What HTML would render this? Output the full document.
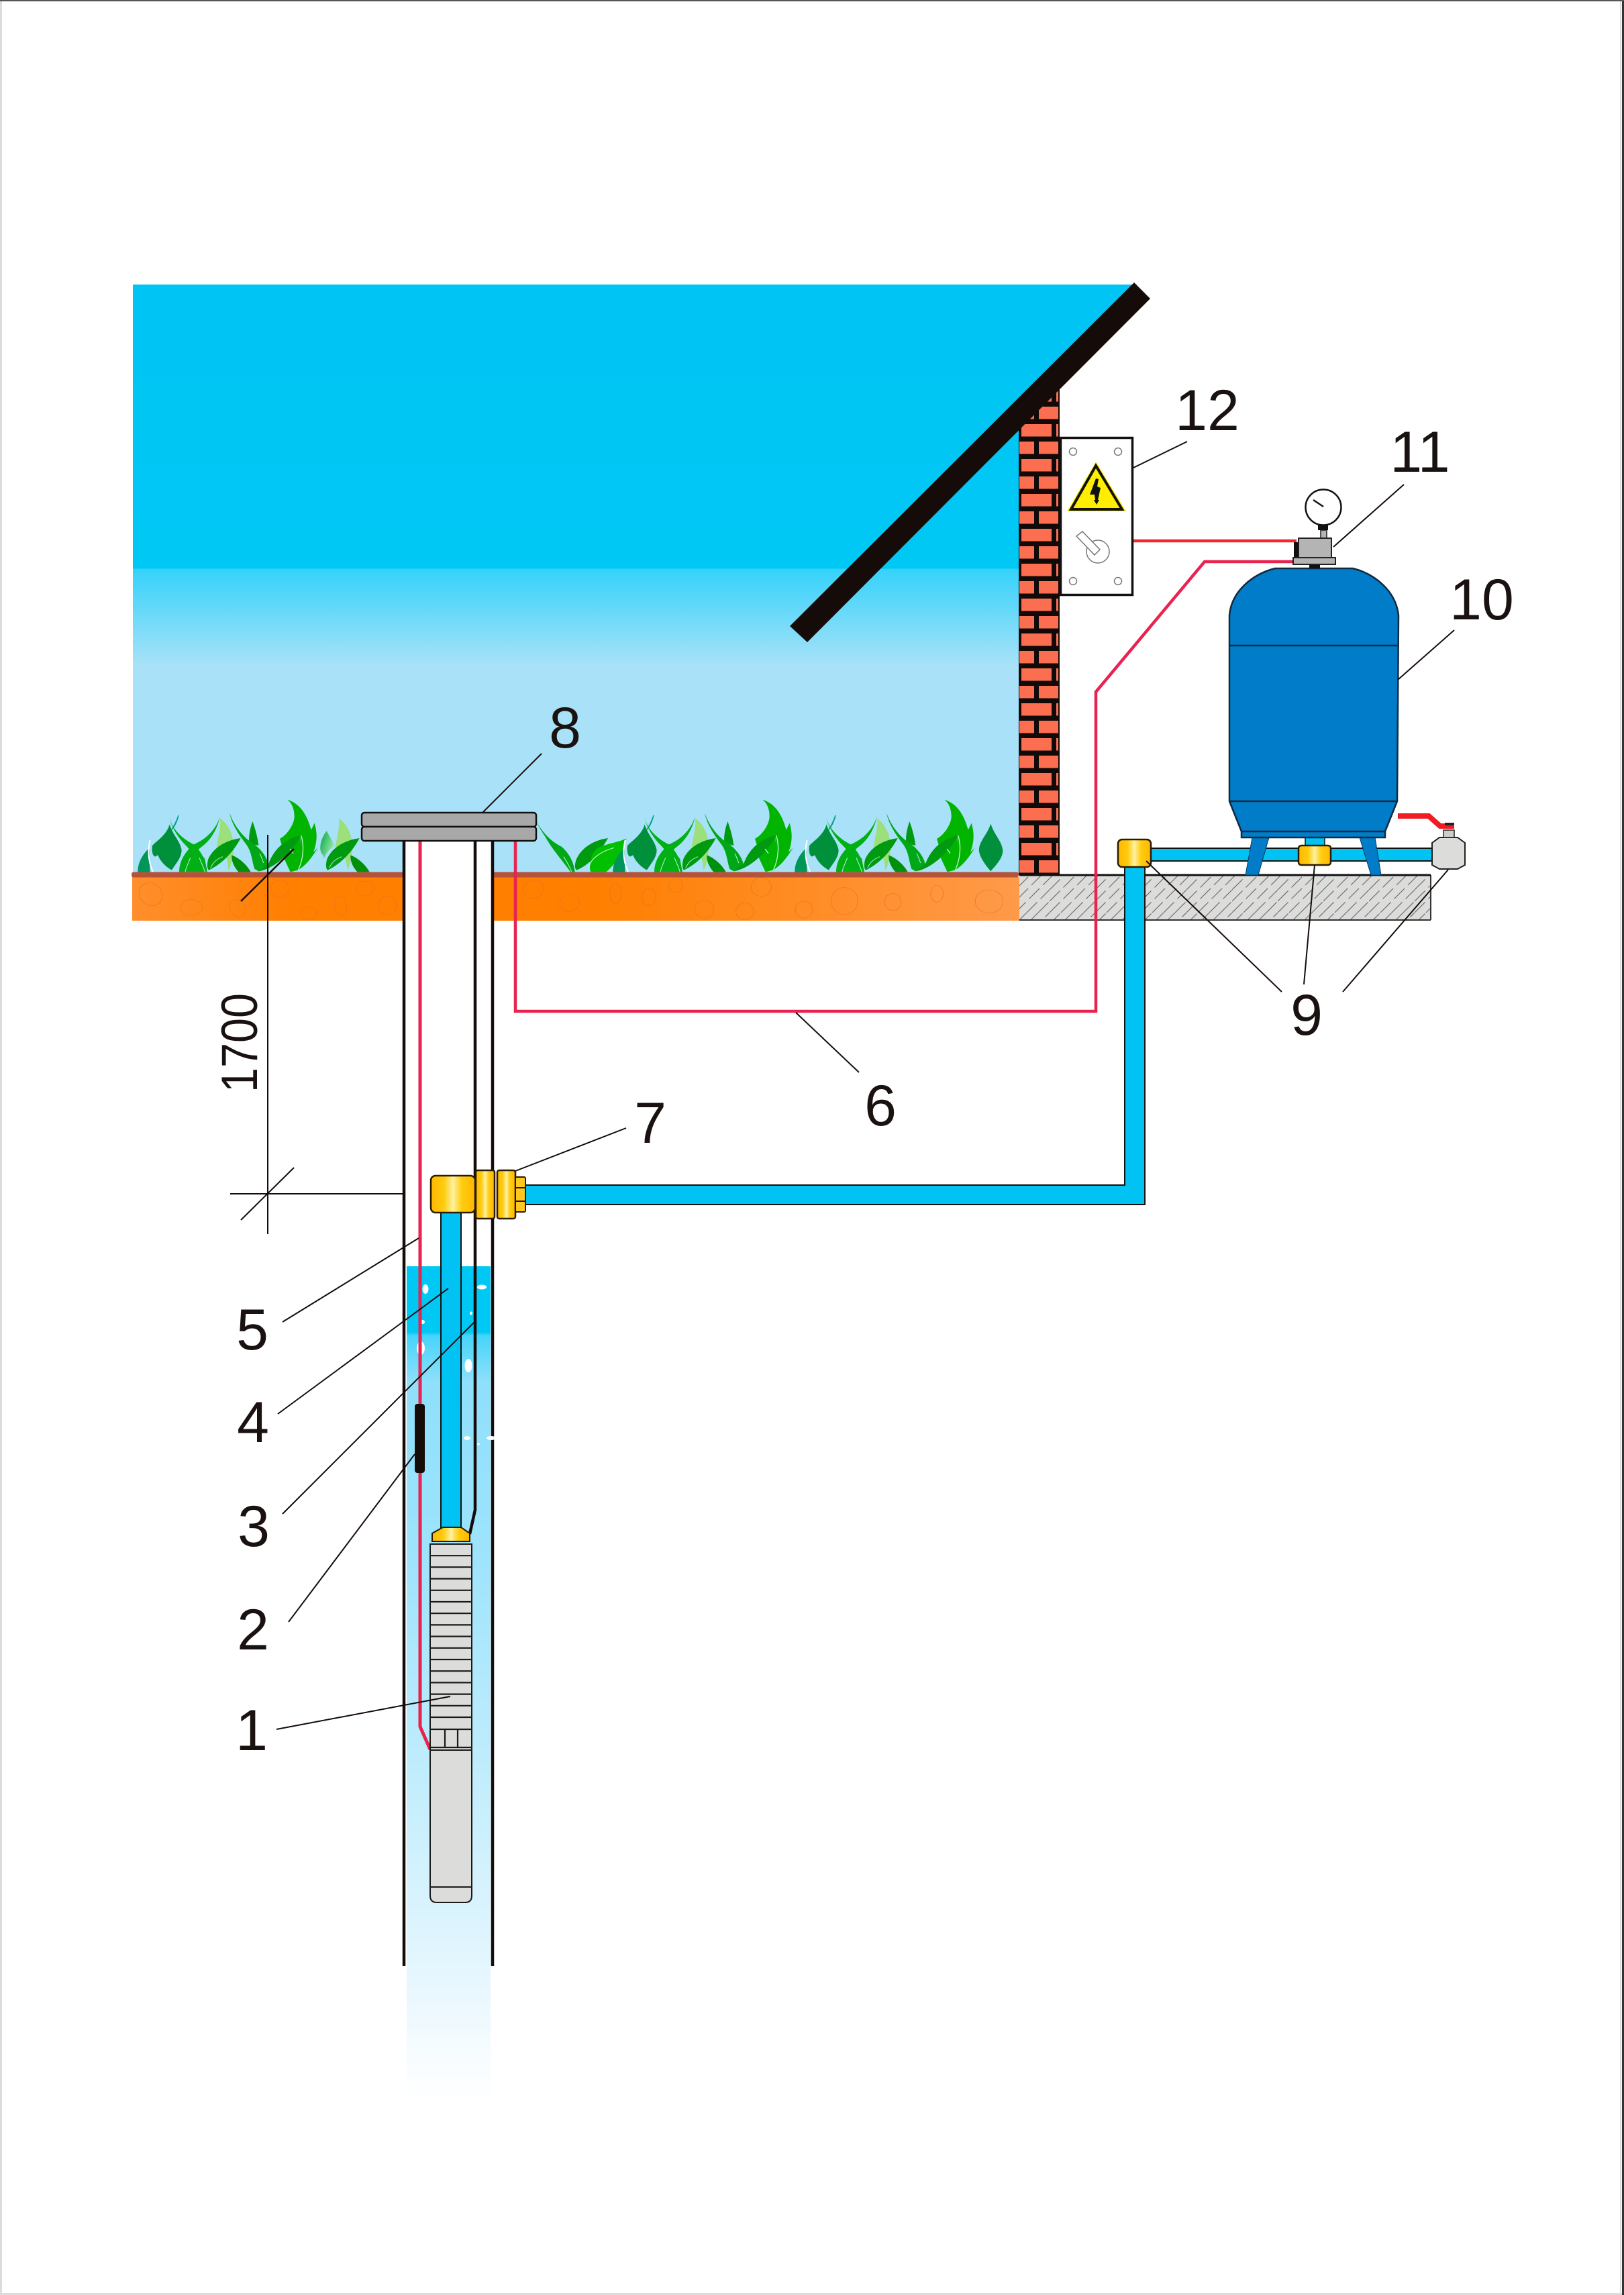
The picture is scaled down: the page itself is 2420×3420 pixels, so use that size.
<!DOCTYPE html>
<html lang="en">
<head>
<meta charset="utf-8">
<title>Well pump diagram</title>
<style>
html,body{margin:0;padding:0;background:#fff}
svg{display:block}
text{font-family:"Liberation Sans",Arial,sans-serif;fill:#1a1210}
</style>
</head>
<body>
<svg xmlns="http://www.w3.org/2000/svg" width="2420" height="3420" viewBox="0 0 2420 3420">
<defs>
<linearGradient id="sky" gradientUnits="userSpaceOnUse" x1="0" y1="424" x2="0" y2="1300">
<stop offset="0" stop-color="#00c4f4"/>
<stop offset="0.483" stop-color="#00c8f5"/>
<stop offset="0.484" stop-color="#35d2fa"/>
<stop offset="0.65" stop-color="#a9e2f8"/>
<stop offset="1" stop-color="#a9e2f8"/>
</linearGradient>
<linearGradient id="soil" gradientUnits="userSpaceOnUse" x1="197" y1="0" x2="1519" y2="0">
<stop offset="0" stop-color="#ff8e2c"/>
<stop offset="0.18" stop-color="#ff7f00"/>
<stop offset="0.52" stop-color="#ff7f00"/>
<stop offset="1" stop-color="#ff9a4a"/>
</linearGradient>
<linearGradient id="water" gradientUnits="userSpaceOnUse" x1="0" y1="1887" x2="0" y2="3130">
<stop offset="0" stop-color="#00c8f5"/>
<stop offset="0.079" stop-color="#00c8f5"/>
<stop offset="0.083" stop-color="#45d4fa"/>
<stop offset="0.139" stop-color="#8fe0fb"/>
<stop offset="0.332" stop-color="#9de3fc"/>
<stop offset="0.582" stop-color="#bdecfc"/>
<stop offset="0.839" stop-color="#e4f6fe"/>
<stop offset="1" stop-color="#ffffff"/>
</linearGradient>
<linearGradient id="brass" x1="0" y1="0" x2="1" y2="0">
<stop offset="0" stop-color="#ffb800"/>
<stop offset="0.3" stop-color="#ffcc10"/>
<stop offset="0.5" stop-color="#fff2a0"/>
<stop offset="0.7" stop-color="#ffcc10"/>
<stop offset="1" stop-color="#ffb800"/>
</linearGradient>
<linearGradient id="lf" x1="0" y1="0" x2="1" y2="0.6">
<stop offset="0" stop-color="#00a840"/>
<stop offset="1" stop-color="#a0e8b0"/>
</linearGradient>
<pattern id="hatch" patternUnits="userSpaceOnUse" width="68" height="68">
<path d="M0 17L17 0M0 34L34 0M0 51L51 0M0 68L68 0M17 68L68 17M34 68L68 34M51 68L68 51" stroke="#6e6e6e" stroke-width="1.2" fill="none" stroke-dasharray="22 7"/>
</pattern>
<clipPath id="wallclip"><polygon points="1579,575 1579,1304 1518,1304 1518,641"/></clipPath>

<g id="sideleaves">
<path d="M708,118C745,145 770,190 768,260C765,300 755,335 745,352C743,310 735,270 692,245C700,200 712,160 708,118Z" fill="#9be07a"/>
<path d="M800,207C740,215 680,245 655,300C648,325 650,345 658,350C720,320 770,265 800,207Z" fill="#009a10"/>
<path d="M665,340C680,310 695,300 720,290" fill="none" stroke="#a8f0c0" stroke-width="3"/>
<path d="M760,283C795,295 830,330 845,358L790,358C770,335 758,310 760,283Z" fill="#00900a"/>
</g>
<g id="grass">
<use href="#sideleaves"/>
<path d="M392,250C360,280 338,320 340,360L395,360Z" fill="#00965a"/>
<path d="M522,105C515,135 505,155 490,170C505,150 515,125 522,105Z" fill="#00a08a" stroke="#00a08a" stroke-width="4"/>
<path d="M482,145C470,190 430,215 405,240C400,270 410,300 425,285L430,283C440,310 465,335 492,350C510,320 540,290 535,255C525,215 495,190 482,145Z" fill="#00903c"/>
<path d="M395,215C385,260 385,310 408,358" fill="none" stroke="#fff" stroke-width="6"/>
<path d="M478,105C490,160 530,205 590,235C625,265 645,310 650,358L620,358C610,320 585,270 555,240C520,205 490,160 478,105Z" fill="#00b014"/>
<path d="M708,110C690,165 650,210 590,235C550,270 525,310 525,358L555,358C560,315 590,275 620,250C670,215 695,165 708,110Z" fill="#00b014"/>
<path d="M590,235L640,300L650,358L525,358L545,290Z" fill="#00b014"/>
<path d="M575,295C565,320 555,340 552,358M615,295C625,320 635,340 640,358" fill="none" stroke="#bdf5d0" stroke-width="3"/>
<path d="M853,132C840,170 835,200 838,230L880,240C875,200 865,165 853,132Z" fill="#009a10"/>
<path d="M750,93C765,140 800,190 840,220C890,250 920,295 925,330L880,355L862,345C850,310 850,270 825,235C790,190 758,140 750,93Z" fill="#00a818"/>
<path d="M885,275C892,290 898,305 902,318" fill="none" stroke="#bdf5d0" stroke-width="3"/>
<path d="M1008,35C1060,50 1095,95 1115,170L1130,140C1145,190 1140,230 1125,270L1145,250C1115,300 1085,335 1055,350C1065,310 1075,250 1065,195L1040,250C1045,290 1040,320 1022,358C1010,320 995,290 990,260L975,210L990,200C1015,180 1040,140 1040,110C1040,80 1030,50 1008,35Z" fill="#00b400"/>
<path d="M1000,240L1065,195L1075,300L1055,350L1022,358L990,290Z" fill="#00b400"/>
<path d="M1070,195C1010,205 950,250 925,320L880,355C950,345 1030,270 1070,195Z" fill="#009a10"/>
<path d="M1070,195C1085,240 1080,300 1058,348M1020,255L1035,275" fill="none" stroke="#bdf5d0" stroke-width="4"/>
</g>
</defs>

<!-- page border -->
<rect width="2420" height="3420" fill="#fff"/>
<rect x="0" y="0" width="3" height="3420" fill="#dcdcdc"/>
<rect x="0" y="3417" width="2420" height="3" fill="#dcdcdc"/>
<rect x="2414" y="0" width="2" height="3420" fill="#dcdcdc"/>
<rect x="2417" y="0" width="3" height="3420" fill="#333"/>
<rect x="0" y="0" width="2420" height="2" fill="#555"/>

<!-- sky -->
<polygon points="198,424 1695,424 1518,600 1518,1304 198,1304" fill="url(#sky)"/>

<!-- bricks -->
<g clip-path="url(#wallclip)">
<rect x="1518" y="570" width="61" height="734" fill="#120a08"/>
<g fill="#fb6f50">
<path d="M1522 580h45v18.5h-45zM1574 580h3v18.5h-3zM1519 606h22v18.5h-22zM1548 606h29v18.5h-29z"/>
<path d="M1522 632h45v18.5h-45zM1574 632h3v18.5h-3zM1519 658h22v18.5h-22zM1548 658h29v18.5h-29z"/>
<path d="M1522 684h45v18.5h-45zM1574 684h3v18.5h-3zM1519 710h22v18.5h-22zM1548 710h29v18.5h-29z"/>
<path d="M1522 736h45v18.5h-45zM1574 736h3v18.5h-3zM1519 762h22v18.5h-22zM1548 762h29v18.5h-29z"/>
<path d="M1522 788h45v18.5h-45zM1574 788h3v18.5h-3zM1519 814h22v18.5h-22zM1548 814h29v18.5h-29z"/>
<path d="M1522 840h45v18.5h-45zM1574 840h3v18.5h-3zM1519 866h22v18.5h-22zM1548 866h29v18.5h-29z"/>
<path d="M1522 892h45v18.5h-45zM1574 892h3v18.5h-3zM1519 918h22v18.5h-22zM1548 918h29v18.5h-29z"/>
<path d="M1522 944h45v18.5h-45zM1574 944h3v18.5h-3zM1519 970h22v18.5h-22zM1548 970h29v18.5h-29z"/>
<path d="M1522 996h45v18.5h-45zM1574 996h3v18.5h-3zM1519 1022h22v18.5h-22zM1548 1022h29v18.5h-29z"/>
<path d="M1522 1048h45v18.5h-45zM1574 1048h3v18.5h-3zM1519 1074h22v18.5h-22zM1548 1074h29v18.5h-29z"/>
<path d="M1522 1100h45v18.5h-45zM1574 1100h3v18.5h-3zM1519 1126h22v18.5h-22zM1548 1126h29v18.5h-29z"/>
<path d="M1522 1152h45v18.5h-45zM1574 1152h3v18.5h-3zM1519 1178h22v18.5h-22zM1548 1178h29v18.5h-29z"/>
<path d="M1522 1204h45v18.5h-45zM1574 1204h3v18.5h-3zM1519 1230h22v18.5h-22zM1548 1230h29v18.5h-29z"/>
<path d="M1522 1256h45v18.5h-45zM1574 1256h3v18.5h-3zM1519 1282h22v18.5h-22zM1548 1282h29v18.5h-29z"/>
</g>
</g>

<!-- roof -->
<polygon points="1690,421 1714,445 1203,957 1177,933" fill="#150c0a"/>

<!-- grass -->
<g transform="translate(800,1180) scale(0.33333)">
<path d="M0,135C30,190 70,225 110,245C140,270 165,310 170,358L150,358C125,320 70,260 40,205C20,175 5,150 0,135Z" fill="#00a818"/>
<path d="M120,290C135,315 150,340 155,358" fill="none" stroke="#bdf5d0" stroke-width="3"/>
<path d="M318,207C260,215 200,245 175,305C168,330 170,345 178,350C240,325 285,265 318,207Z" fill="#009a10"/>
<path d="M400,208C370,225 310,230 265,255C240,285 232,325 240,358L310,358C350,325 385,270 400,208Z" fill="#00c000"/>
<path d="M235,330C245,295 290,265 345,250" fill="none" stroke="#d0f8d8" stroke-width="3"/>
<use href="#grass"/>
<use href="#grass" x="813"/>
<use href="#grass" x="-2124"/>
<use href="#sideleaves" x="-1593"/>
</g>
<g transform="translate(790,1170) scale(0.4717,0.3333)">
<path d="M1455,172C1445,220 1418,250 1418,290C1418,320 1440,360 1455,385C1470,360 1495,325 1493,290C1490,250 1465,220 1455,172Z" fill="#00903c"/>
</g>
<g transform="translate(190,1180) scale(0.33333)">
<path d="M890,175C870,200 855,240 865,270L880,295C890,270 905,255 925,240L910,210Z" fill="url(#lf)"/>
</g>

<!-- ground -->
<rect x="197" y="1307" width="1322" height="65" fill="url(#soil)"/>
<rect x="196" y="1299.500" width="1322" height="8" rx="3" fill="#b5533a"/>
<g fill="none" stroke="#e8701f" stroke-width="1.5">
<g transform="translate(180,1150) scale(0.4464,0.3333)">
<ellipse cx="100" cy="548" rx="38" ry="52" transform="rotate(-12 100 548)"/>
<ellipse cx="236" cy="607" rx="37" ry="35"/>
<ellipse cx="390" cy="610" rx="26" ry="40" transform="rotate(-15 390 610)"/>
<ellipse cx="530" cy="522" rx="30" ry="38"/>
<ellipse cx="628" cy="633" rx="26" ry="28"/>
<ellipse cx="733" cy="600" rx="20" ry="45" transform="rotate(-8 733 600)"/>
<ellipse cx="815" cy="522" rx="30" ry="33"/>
<ellipse cx="890" cy="598" rx="30" ry="42"/>
<ellipse cx="1378" cy="525" rx="33" ry="42" transform="rotate(12 1378 525)"/>
<ellipse cx="1498" cy="587" rx="33" ry="40" transform="rotate(15 1498 587)"/>
</g>
<g transform="translate(790,1170) scale(0.4717,0.3333)">
<ellipse cx="270" cy="485" rx="18" ry="45"/>
<ellipse cx="375" cy="500" rx="22" ry="40"/>
<ellipse cx="460" cy="447" rx="22" ry="32"/>
<ellipse cx="730" cy="455" rx="32" ry="42"/>
<ellipse cx="550" cy="555" rx="30" ry="40"/>
<ellipse cx="678" cy="565" rx="28" ry="38"/>
<ellipse cx="865" cy="557" rx="27" ry="38"/>
<ellipse cx="993" cy="518" rx="42" ry="60"/>
<ellipse cx="1146" cy="522" rx="26" ry="38"/>
<ellipse cx="1285" cy="485" rx="20" ry="38"/>
<ellipse cx="1450" cy="520" rx="44" ry="52"/>
</g>
</g>

<!-- slab -->
<rect x="1519" y="1304" width="613" height="67" fill="#dcdcda"/>
<rect x="1519" y="1304" width="613" height="67" fill="url(#hatch)"/>
<path d="M1519 1304H2132M1519 1371H2132M2132 1304V1371" fill="none" stroke="#333" stroke-width="2"/>
<path d="M1519 1304H2132" stroke="#111" stroke-width="3"/>

<!-- well -->
<rect x="602" y="1253" width="132" height="700" fill="#fff"/>
<rect x="606" y="1887" width="125" height="1243" fill="url(#water)"/>
<g fill="#fff">
<ellipse cx="634" cy="1921" rx="4.500" ry="7"/>
<ellipse cx="718" cy="1918" rx="7" ry="3.500"/>
<ellipse cx="702" cy="1957" rx="2" ry="2.500"/>
<ellipse cx="630" cy="1970" rx="3" ry="3"/>
<ellipse cx="627" cy="2009" rx="6" ry="10"/>
<ellipse cx="698" cy="2035" rx="5.500" ry="10"/>
<ellipse cx="696" cy="2143" rx="5" ry="3"/>
<ellipse cx="713" cy="2152" rx="2" ry="1.500"/>
</g>

<!-- well walls -->
<path d="M602 1253V2930M734 1253V2930" stroke="#150c0a" stroke-width="4.500" fill="none"/>
<ellipse cx="732" cy="2143" rx="7" ry="3" fill="#fff"/>
<path d="M708 1253V2250L700 2286" stroke="#150c0a" stroke-width="4.500" fill="none"/>

<!-- red cables -->
<path d="M626 1253V2573L641 2607" stroke="#e8234f" stroke-width="5" fill="none"/>
<path d="M768 1253V1507H1633V1031L1795 837H1928" stroke="#e8234f" stroke-width="4.500" fill="none"/>
<path d="M1688 806H1932" stroke="#f0282d" stroke-width="4.500" fill="none"/>

<!-- float -->
<rect x="618" y="2092" width="15" height="103" rx="4" fill="#150c0a"/>

<!-- drop pipe -->
<rect x="657" y="1800" width="30" height="482" fill="#00c3f4" stroke="#111" stroke-width="2"/>

<!-- horizontal piping -->
<path d="M783 1766H1676V1292H1706V1795H783Z" fill="#00c3f4" stroke="#111" stroke-width="2"/>
<rect x="1715" y="1264" width="422" height="19" fill="#00c3f4" stroke="#111" stroke-width="2"/>

<!-- fittings -->
<rect x="642" y="1752" width="66" height="55" rx="7" fill="url(#brass)" stroke="#2a1a00" stroke-width="2.500"/>
<rect x="709" y="1744" width="28" height="72" rx="3" fill="url(#brass)" stroke="#2a1a00" stroke-width="2.500"/>
<rect x="741" y="1744" width="27" height="72" rx="3" fill="url(#brass)" stroke="#2a1a00" stroke-width="2.500"/>
<rect x="768" y="1754" width="15" height="52" rx="2" fill="#ffc81e" stroke="#2a1a00" stroke-width="2"/>
<path d="M768 1770H783M768 1790H783" stroke="#2a1a00" stroke-width="2"/>
<rect x="1666" y="1251" width="49" height="41" rx="6" fill="url(#brass)" stroke="#2a1a00" stroke-width="2.500"/>

<!-- pump -->
<polygon points="644,2297 644,2285 660,2276 687,2276 700,2285 700,2297" fill="url(#brass)" stroke="#2a1a00" stroke-width="2"/>
<rect x="641" y="2301" width="62" height="307" fill="#dcdcda" stroke="#1a1a1a" stroke-width="2"/>
<path d="M640 2318.200H704M640 2335.400H704M640 2352.600H704M640 2369.800H704M640 2387H704M640 2404.200H704M640 2421.400H704M640 2438.600H704M640 2455.800H704M640 2473H704M640 2490.200H704M640 2507.400H704M640 2524.600H704M640 2541.800H704M640 2559H704M640 2577H704M640 2604H704" stroke="#1a1a1a" stroke-width="2.200"/>
<path d="M663 2577V2604M682 2577V2604" stroke="#1a1a1a" stroke-width="2.200"/>
<path d="M641 2608H703V2825Q703 2835 693 2835H651Q641 2835 641 2825Z" fill="#dcdcda" stroke="#1a1a1a" stroke-width="2"/>
<path d="M641 2812H703" stroke="#1a1a1a" stroke-width="2"/>

<!-- well cover -->
<rect x="539" y="1211" width="260" height="21" rx="4" fill="#a8a8a8" stroke="#111" stroke-width="2.500"/>
<rect x="539" y="1232" width="260" height="21" rx="4" fill="#a8a8a8" stroke="#111" stroke-width="2.500"/>

<!-- electric box -->
<rect x="1580.500" y="652.500" width="107" height="234" fill="#fff" stroke="#111" stroke-width="3.500"/>
<g fill="#fff" stroke="#777" stroke-width="1.500">
<circle cx="1599" cy="673" r="5.500"/>
<circle cx="1666" cy="673" r="5.500"/>
<circle cx="1599" cy="866" r="5.500"/>
<circle cx="1666" cy="866" r="5.500"/>
<circle cx="1636" cy="822" r="17"/>
<polygon points="1604,799 1613,792 1639,819 1631,827"/>
</g>
<polygon points="1633,688 1590,762 1678,762" fill="#ffee00"/>
<polygon points="1633,694 1596,759 1672,759" fill="#ffee00" stroke="#111" stroke-width="4"/>
<polygon points="1633,713 1637,714 1635,725 1640,727 1636,745 1638,745 1634,752 1630,745 1632,745 1631,737 1624,737" fill="#111"/>

<!-- tank -->
<rect x="1945" y="1248" width="29" height="14" fill="#00c3f4" stroke="#111" stroke-width="1.500"/>
<polygon points="1866,1248 1891,1248 1875,1304 1856,1304" fill="#007cc8" stroke="#0a3a60" stroke-width="1"/>
<polygon points="2026,1248 2049,1248 2058,1304 2043,1304" fill="#007cc8" stroke="#0a3a60" stroke-width="1"/>
<path d="M1832 1194V917C1835 880 1868 855 1900 847H2016C2048 855 2080 880 2084 917L2082 1194L2064 1239V1248H1850V1239Z" fill="#007cc8" stroke="#102a40" stroke-width="2.500"/>
<path d="M1832 962H2083M1832 1194H2082M1850 1239H2064" stroke="#102a40" stroke-width="2.500" fill="none"/>
<rect x="1935" y="1260" width="48" height="29" rx="4" fill="url(#brass)" stroke="#2a1a00" stroke-width="2.500"/>

<!-- valve -->
<polygon points="2145,1248 2172,1248 2183,1256 2183,1289 2172,1295 2145,1295 2134,1289 2134,1256" fill="#dcdcda" stroke="#222" stroke-width="2"/>
<rect x="2151" y="1237" width="16" height="11" fill="#ccc" stroke="#222" stroke-width="1.500"/>
<path d="M2083 1216H2129L2146 1231H2167" fill="none" stroke="#f01c24" stroke-width="8"/>
<rect x="2153" y="1226" width="14" height="4" fill="#222"/>

<!-- pressure switch / gauge -->
<rect x="1951" y="841" width="16" height="6" fill="#111"/>
<rect x="1928" y="808" width="8" height="24" fill="#111"/>
<rect x="1968" y="790" width="9" height="12" fill="#b4b4b4" stroke="#222" stroke-width="1.500"/>
<rect x="1964" y="782" width="15" height="8" fill="#111"/>
<rect x="1935" y="802" width="49" height="29" fill="#b4b4b4" stroke="#222" stroke-width="2"/>
<rect x="1927" y="831" width="63" height="10" fill="#b4b4b4" stroke="#222" stroke-width="2"/>
<circle cx="1972" cy="756" r="26.500" fill="#fff" stroke="#111" stroke-width="2.500"/>
<path d="M1957 745L1972 755" stroke="#111" stroke-width="2.500"/>

<!-- leader lines -->
<g stroke="#150c0a" stroke-width="2" fill="none">
<path d="M399 1244V1839"/>
<path d="M343 1779H602"/>
<path d="M359 1818L438 1740"/>
<path d="M438 1265L359 1343" stroke-width="2.500"/>
<path d="M719 1211L807 1123"/>
<path d="M1186 1509L1280 1598"/>
<path d="M768 1745L933 1681"/>
<path d="M624 1845L421 1970"/>
<path d="M668 1920L414 2107"/>
<path d="M707 1970L421 2256"/>
<path d="M618 2167L430 2417"/>
<path d="M671 2528L412 2577"/>
<path d="M1708 1283L1910 1478"/>
<path d="M1959 1289L1943 1467"/>
<path d="M2158 1296L2001 1478"/>
<path d="M1689 697L1769 658"/>
<path d="M1987 815L2092 722"/>
<path d="M2083 1013L2167 939"/>
</g>

<!-- labels -->
<g font-size="86" text-anchor="middle">
<text x="1799" y="641">12</text>
<text x="2116" y="703">11</text>
<text x="2208" y="923">10</text>
<text x="842" y="1114">8</text>
<text x="1947" y="1542">9</text>
<text x="1312" y="1677">6</text>
<text x="969" y="1703">7</text>
<text x="376" y="2011">5</text>
<text x="377" y="2149">4</text>
<text x="378" y="2304">3</text>
<text x="377" y="2458">2</text>
<text x="375" y="2608">1</text>
</g>
<text transform="translate(383,1628) rotate(-90)" font-size="76" textLength="148" lengthAdjust="spacingAndGlyphs">1700</text>
</svg>
</body>
</html>
